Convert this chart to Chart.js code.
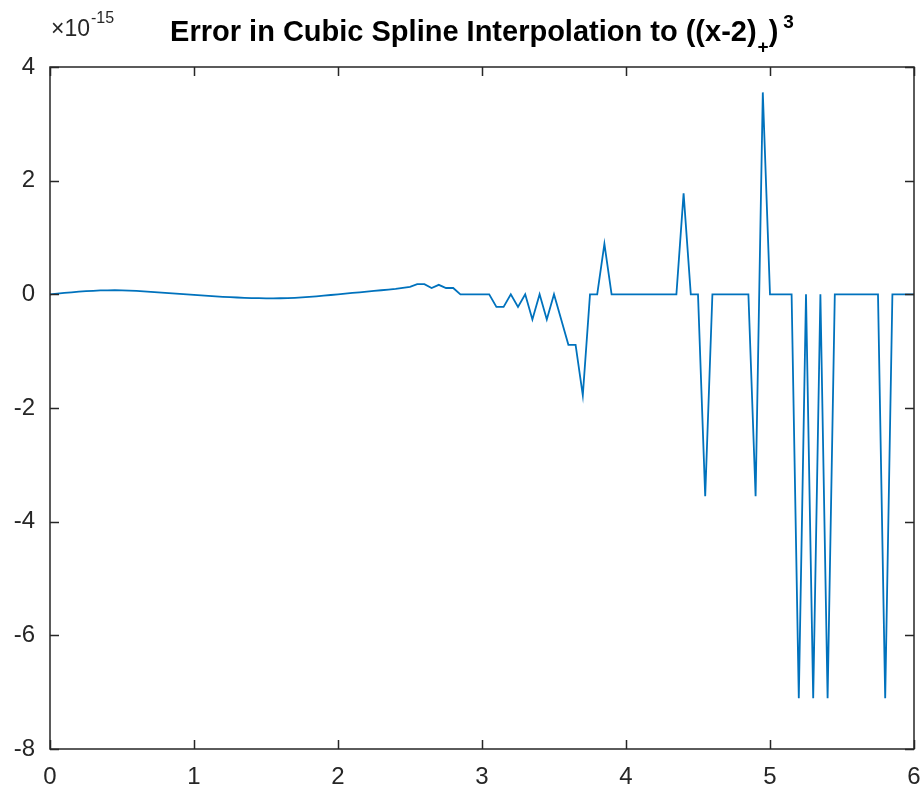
<!DOCTYPE html>
<html>
<head>
<meta charset="utf-8">
<script src="https://cdn.jsdelivr.net/npm/chart.js@4.4.1/dist/chart.umd.min.js"></script>
<style>
html,body{margin:0;padding:0;background:#ffffff;}
#wrap{position:relative;width:924px;height:791px;}
</style>
</head>
<body>
<div id="wrap"><canvas id="c" width="924" height="791"></canvas></div>
<script>
// ---- data (error values in units of 1e-15) ----
const xValues = [
  0.00,0.05,0.10,0.15,0.20,0.25,0.30,0.35,0.40,0.45,
  0.50,0.55,0.60,0.65,0.70,0.75,0.80,0.85,0.90,0.95,
  1.00,1.05,1.10,1.15,1.20,1.25,1.30,1.35,1.40,1.45,
  1.50,1.55,1.60,1.65,1.70,1.75,1.80,1.85,1.90,1.95,
  2.00,2.05,2.10,2.15,2.20,2.25,2.30,2.35,2.40,2.45,
  2.50,2.55,2.60,2.65,2.70,2.75,2.80,2.85,2.90,2.95,
  3.00,3.05,3.10,3.15,3.20,3.25,3.30,3.35,3.40,3.45,
  3.50,3.55,3.60,3.65,3.70,3.75,3.80,3.85,3.90,3.95,
  4.00,4.05,4.10,4.15,4.20,4.25,4.30,4.35,4.40,4.45,
  4.50,4.55,4.60,4.65,4.70,4.75,4.80,4.85,4.90,4.95,
  5.00,5.05,5.10,5.15,5.20,5.25,5.30,5.35,5.40,5.45,
  5.50,5.55,5.60,5.65,5.70,5.75,5.80,5.85,5.90,5.95,
  6.00
];
const errorTimes1e15 = [
  0.000,0.012,0.024,0.035,0.046,0.055,0.062,0.068,0.071,0.072,
  0.070,0.066,0.060,0.053,0.045,0.036,0.027,0.018,0.009,0.000,
  -0.009,-0.018,-0.027,-0.035,-0.043,-0.050,-0.056,-0.061,-0.065,-0.068,
  -0.070,-0.070,-0.069,-0.066,-0.061,-0.054,-0.045,-0.035,-0.024,-0.012,
  0.000,0.012,0.024,0.036,0.048,0.060,0.072,0.084,0.097,0.115,
  0.130,0.178,0.178,0.111,0.167,0.111,0.111,0.000,0.000,0.000,
  0.000,0.000,-0.222,-0.222,0.000,-0.222,0.000,-0.444,0.000,-0.444,
  0.000,-0.444,-0.888,-0.888,-1.776,0.000,0.000,0.888,0.000,0.000,
  0.000,0.000,0.000,0.000,0.000,0.000,0.000,0.000,1.776,0.000,
  0.000,-3.553,0.000,0.000,0.000,0.000,0.000,0.000,-3.553,3.553,
  0.000,0.000,0.000,0.000,-7.105,0.000,-7.105,0.000,-7.105,0.000,
  0.000,0.000,0.000,0.000,0.000,0.000,-7.105,0.000,0.000,0.000,
  0.000
];
const xTickValues = [0,1,2,3,4,5,6];
const yTickValues = [-8,-6,-4,-2,0,2,4];
const yExponentBase = '\u00D710';
const yExponent = '-15';
const titleMain = 'Error in Cubic Spline Interpolation to ((x-2)';
const titleSub = '+';
const titleClose = ')';
const titleSup = '3';

// ---- styling ----
const AXIS_COLOR = '#262626';
const LINE_COLOR = '#0072BD';
const FONT_FAMILY = '"Liberation Sans", Arial, Helvetica, sans-serif';
const TICK_FONT_SIZE = 24;

const points = xValues.map((x, i) => ({x: x, y: errorTimes1e15[i]}));

const matlabAxes = {
  id: 'matlabAxes',
  afterDatasetsDraw(chart) {
    const ctx = chart.ctx;
    const a = chart.chartArea;
    const xs = chart.scales.x, ys = chart.scales.y;
    const tl = 9;
    ctx.save();
    ctx.strokeStyle = AXIS_COLOR;
    ctx.lineWidth = 1.5;
    ctx.strokeRect(a.left, a.top, a.right - a.left, a.bottom - a.top);
    ctx.beginPath();
    xTickValues.forEach(v => {
      const px = Math.round(xs.getPixelForValue(v)) + 0.5;
      ctx.moveTo(px, a.bottom); ctx.lineTo(px, a.bottom - tl);
      ctx.moveTo(px, a.top); ctx.lineTo(px, a.top + tl);
    });
    yTickValues.forEach(v => {
      const py = Math.round(ys.getPixelForValue(v)) + 0.5;
      ctx.moveTo(a.left, py); ctx.lineTo(a.left + tl, py);
      ctx.moveTo(a.right, py); ctx.lineTo(a.right - tl, py);
    });
    ctx.stroke();
    ctx.restore();
  },
  afterDraw(chart) {
    const ctx = chart.ctx;
    const a = chart.chartArea;
    ctx.save();
    // title with subscript / superscript
    const big = 'bold 29px ' + FONT_FAMILY;
    const small = 'bold 19px ' + FONT_FAMILY;
    const parts = [
      {t: titleMain, f: big, dy: 0, gap: 1},
      {t: titleSub, f: small, dy: 12, gap: 0},
      {t: titleClose, f: big, dy: 0, gap: 5},
      {t: titleSup, f: small, dy: -13, gap: 0}
    ];
    let total = 0;
    parts.forEach(p => { ctx.font = p.f; p.w = ctx.measureText(p.t).width + p.gap; total += p.w; });
    let x = (a.left + a.right) / 2 - total / 2;
    const base = 41;
    ctx.fillStyle = '#000000';
    ctx.textBaseline = 'alphabetic';
    ctx.textAlign = 'left';
    parts.forEach(p => { ctx.font = p.f; ctx.fillText(p.t, x, base + p.dy); x += p.w; });
    // exponent label
    ctx.fillStyle = AXIS_COLOR;
    ctx.font = '23px ' + FONT_FAMILY;
    const ex = a.left + 1;
    ctx.fillText(yExponentBase, ex, 36);
    const w1 = ctx.measureText(yExponentBase).width;
    ctx.font = '16px ' + FONT_FAMILY;
    ctx.fillText(yExponent, ex + w1 + 1, 23);
    ctx.restore();
  }
};

new Chart(document.getElementById('c'), {
  type: 'line',
  data: {
    datasets: [{
      data: points,
      borderColor: LINE_COLOR,
      borderWidth: 1.8,
      pointRadius: 0,
      tension: 0,
      fill: false
    }]
  },
  options: {
    responsive: false,
    animation: false,
    devicePixelRatio: 1,
    layout: {padding: {top: 67, right: 10, left: 0, bottom: 0}},
    plugins: {legend: {display: false}, tooltip: {enabled: false}, title: {display: false}},
    scales: {
      x: {
        type: 'linear', min: 0, max: 6,
        grid: {display: false, drawTicks: false},
        border: {display: false},
        afterBuildTicks: s => { s.ticks = xTickValues.map(v => ({value: v})); },
        ticks: {color: AXIS_COLOR, font: {family: FONT_FAMILY, size: TICK_FONT_SIZE}, padding: 14, maxRotation: 0,
                callback: v => String(v)},
        afterFit: s => { s.height = 42; s.paddingLeft = 0; s.paddingRight = 0; }
      },
      y: {
        type: 'linear', min: -8, max: 4,
        grid: {display: false, drawTicks: false},
        border: {display: false},
        afterBuildTicks: s => { s.ticks = yTickValues.map(v => ({value: v})); },
        ticks: {color: AXIS_COLOR, font: {family: FONT_FAMILY, size: TICK_FONT_SIZE}, padding: 15,
                callback: v => String(v)},
        afterFit: s => { s.width = 50; s.paddingTop = 0; s.paddingBottom = 0; }
      }
    }
  },
  plugins: [matlabAxes]
});
</script>
</body>
</html>
